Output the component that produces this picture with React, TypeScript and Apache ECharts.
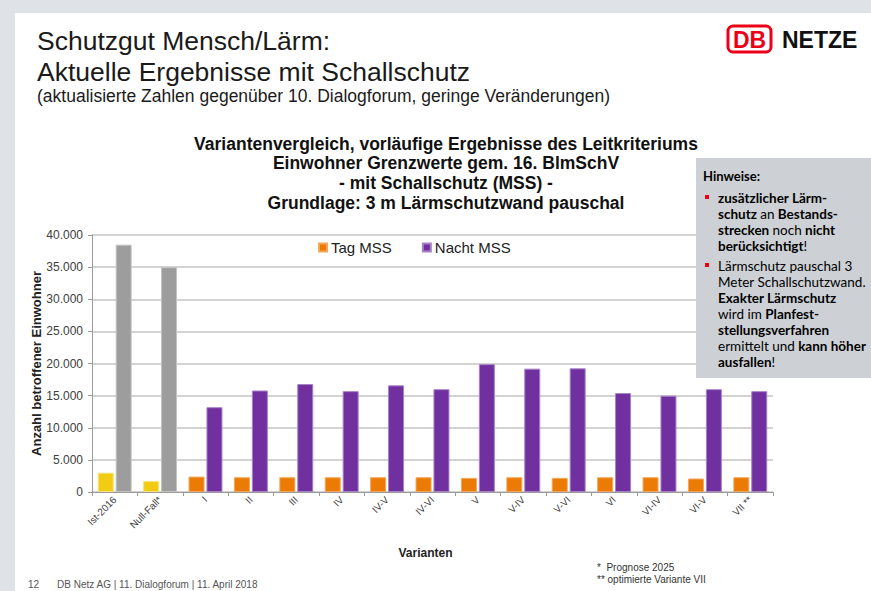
import React, { useEffect, useRef } from "react";
import * as echarts from "echarts";

const categories = ["Ist-2016", "Null-Fall*", "I", "II", "III", "IV", "IV-V", "IV-VI", "V", "V-IV", "V-VI", "VI", "VI-IV", "VI-V", "VII **"];
const tagMSS = [3000, 1700, 2400, 2300, 2300, 2300, 2300, 2300, 2200, 2300, 2200, 2300, 2300, 2100, 2300];
const nachtMSS = [38500, 35000, 13200, 15800, 16800, 15700, 16600, 16000, 19900, 19200, 19250, 15400, 15000, 16000, 15700];
const baselineCategories = ["Ist-2016", "Null-Fall*"];
const yTicks = [0, 5000, 10000, 15000, 20000, 25000, 30000, 35000, 40000];

const COLORS = {
  tag: "#ec7b06",
  nacht: "#7030a0",
  tagBase: "#f2cc14",
  nachtBase: "#9d9d9d",
};

const fmt = (v: number) => String(v).replace(/\B(?=(\d{3})+(?!\d))/g, ".");

const SANS = "'Liberation Sans', Arial, sans-serif";
const HINT_FONT = "Lato, 'Open Sans', sans-serif";

export default function App() {
  const ref = useRef<HTMLDivElement>(null);
  useEffect(() => {
    if (!ref.current) return;
    const chart = echarts.init(ref.current, undefined, { renderer: "svg" });

    const tagData = tagMSS.map((v, i) =>
      baselineCategories.includes(categories[i])
        ? { value: v, itemStyle: { color: COLORS.tagBase, borderColor: "#f8e27a" } }
        : v
    );
    const nachtData = nachtMSS.map((v, i) =>
      baselineCategories.includes(categories[i])
        ? { value: v, itemStyle: { color: COLORS.nachtBase, borderColor: "#c4c4c4" } }
        : v
    );

    const hintRich = {
      h: { fontFamily: HINT_FONT, fontSize: 13, fontWeight: "bold", color: "#222", lineHeight: 16 },
      b: { fontFamily: HINT_FONT, fontSize: 13.5, fontWeight: "bold", color: "#222", lineHeight: 16 },
      n: { fontFamily: HINT_FONT, fontSize: 13.5, color: "#333", lineHeight: 16 },
    };

    const option: any = {
      animation: false,
      backgroundColor: "#dfe3e7",
      textStyle: { fontFamily: SANS },
      title: {
        text:
          "Variantenvergleich, vorläufige Ergebnisse des Leitkriteriums\nEinwohner Grenzwerte gem. 16. BlmSchV\n- mit Schallschutz (MSS) -\nGrundlage: 3 m Lärmschutzwand pauschal",
        left: 441,
        top: 129,
        textAlign: "center",
        textStyle: { fontFamily: SANS, fontSize: 17.5, fontWeight: "bold", color: "#111", lineHeight: 19.6 },
      },
      legend: {
        left: 318,
        top: 240,
        itemWidth: 8,
        itemHeight: 8,
        itemGap: 30,
        icon: "rect",
        padding: 0,
        textStyle: { fontFamily: SANS, fontSize: 15, color: "#222", padding: [0, 0, 0, -1] },
        data: [
          { name: "Tag MSS", itemStyle: { color: COLORS.tag } },
          { name: "Nacht MSS", itemStyle: { color: COLORS.nacht } },
        ],
      },
      grid: { left: 92, right: 98, top: 235, bottom: 99, containLabel: false },
      xAxis: {
        type: "category",
        data: categories,
        name: "Varianten",
        nameLocation: "middle",
        nameGap: 55,
        nameMoveOverlap: false,
        nameTextStyle: { fontFamily: SANS, fontSize: 12, fontWeight: "bold", color: "#222", padding: [0, 14, 0, 0] },
        axisLine: { lineStyle: { color: "#9a9a9a", width: 1 } },
        axisTick: { show: true, length: 4, lineStyle: { color: "#9a9a9a" } },
        axisLabel: { rotate: 45, fontSize: 10, color: "#444", margin: 6, interval: 0 },
      },
      yAxis: {
        type: "value",
        min: 0,
        max: yTicks[yTicks.length - 1],
        interval: yTicks[1] - yTicks[0],
        name: "Anzahl betroffener Einwohner",
        nameLocation: "middle",
        nameGap: 49,
        nameMoveOverlap: false,
        nameTextStyle: { fontFamily: SANS, fontSize: 13, fontWeight: "bold", color: "#222" },
        axisLine: { show: true, lineStyle: { color: "#9a9a9a", width: 1 } },
        axisTick: { show: true, length: 4, lineStyle: { color: "#9a9a9a" } },
        axisLabel: { fontSize: 12, color: "#404040", margin: 9, formatter: (v: number) => fmt(v) },
        splitLine: { lineStyle: { color: "#c4c4c4", width: 1.5 } },
      },
      series: [
        {
          name: "Tag MSS",
          type: "bar",
          barWidth: 16,
          barGap: "12%",
          itemStyle: { color: COLORS.tag, borderColor: "#f3a75a", borderWidth: 1 },
          data: tagData,
        },
        {
          name: "Nacht MSS",
          type: "bar",
          barWidth: 16,
          itemStyle: { color: COLORS.nacht, borderColor: "#a783c4", borderWidth: 1 },
          data: nachtData,
        },
      ],
      graphic: [
        { type: "rect", z: -10, shape: { x: 15, y: 13, width: 871, height: 600 }, style: { fill: "#ffffff" }, silent: true },
        {
          type: "text", left: 37, top: 27, z: 10,
          style: { text: "Schutzgut Mensch/Lärm:", fontFamily: SANS, fontSize: 26.5, fill: "#1a1a1a" },
        },
        {
          type: "text", left: 37, top: 58, z: 10,
          style: { text: "Aktuelle Ergebnisse mit Schallschutz", fontFamily: SANS, fontSize: 26.5, fill: "#1a1a1a" },
        },
        {
          type: "text", left: 37, top: 87, z: 10,
          style: { text: "(aktualisierte Zahlen gegenüber 10. Dialogforum, geringe Veränderungen)", fontFamily: SANS, fontSize: 17.5, fill: "#1a1a1a" },
        },
        {
          type: "rect", z: 10,
          shape: { x: 728, y: 26, width: 43, height: 26, r: 5 },
          style: { fill: "#ffffff", stroke: "#ec0016", lineWidth: 3 },
        },
        {
          type: "text", z: 11, x: 749.5, y: 39.5,
          style: { text: "DB", fontFamily: SANS, fontSize: 23, fontWeight: "bold", fill: "#ec0016", align: "center", verticalAlign: "middle" },
        },
        {
          type: "text", z: 11, x: 782, y: 39.5,
          style: { text: "NETZE", fontFamily: SANS, fontSize: 23, fontWeight: "bold", fill: "#111", align: "left", verticalAlign: "middle" },
        },
        {
          type: "rect", z: 100,
          shape: { x: 696, y: 158, width: 180, height: 220 },
          style: { fill: "#cdd1d5" },
        },
        {
          type: "text", z: 101, x: 703, y: 168,
          style: { text: "{h|Hinweise:}", rich: hintRich },
        },
        {
          type: "rect", z: 101,
          shape: { x: 705, y: 195, width: 4, height: 4 },
          style: { fill: "#ec0016" },
        },
        {
          type: "text", z: 101, x: 718, y: 190,
          style: {
            text: "{b|zusätzlicher Lärm-}\n{b|schutz} {n|an} {b|Bestands-}\n{b|strecken} {n|noch} {b|nicht}\n{b|berücksichtigt}{n|!}",
            rich: hintRich,
          },
        },
        {
          type: "rect", z: 101,
          shape: { x: 705, y: 263, width: 4, height: 4 },
          style: { fill: "#ec0016" },
        },
        {
          type: "text", z: 101, x: 718, y: 258,
          style: {
            text:
              "{n|Lärmschutz pauschal 3}\n{n|Meter Schallschutzwand.}\n{b|Exakter Lärmschutz}\n{n|wird im} {b|Planfest-}\n{b|stellungsverfahren}\n{n|ermittelt und} {b|kann höher}\n{b|ausfallen}{n|!}",
            rich: hintRich,
          },
        },
        {
          type: "text", z: 10, x: 597, y: 567,
          style: { text: "*  Prognose 2025", fontFamily: SANS, fontSize: 10, fill: "#333", verticalAlign: "middle" },
        },
        {
          type: "text", z: 10, x: 597, y: 579,
          style: { text: "** optimierte Variante VII", fontFamily: SANS, fontSize: 10, fill: "#333", verticalAlign: "middle" },
        },
        {
          type: "text", z: 10, x: 28, y: 579,
          style: { text: "12", fontFamily: SANS, fontSize: 10, fill: "#555", verticalAlign: "top" },
        },
        {
          type: "text", z: 10, x: 57, y: 579,
          style: { text: "DB Netz AG | 11. Dialogforum | 11. April 2018", fontFamily: SANS, fontSize: 10, fill: "#555", verticalAlign: "top" },
        },
      ],
    };
    chart.setOption(option);
    return () => chart.dispose();
  }, []);
  return <div ref={ref} style={{ position: "absolute", left: 0, top: 0, width: 871, height: 591 }} />;
}
